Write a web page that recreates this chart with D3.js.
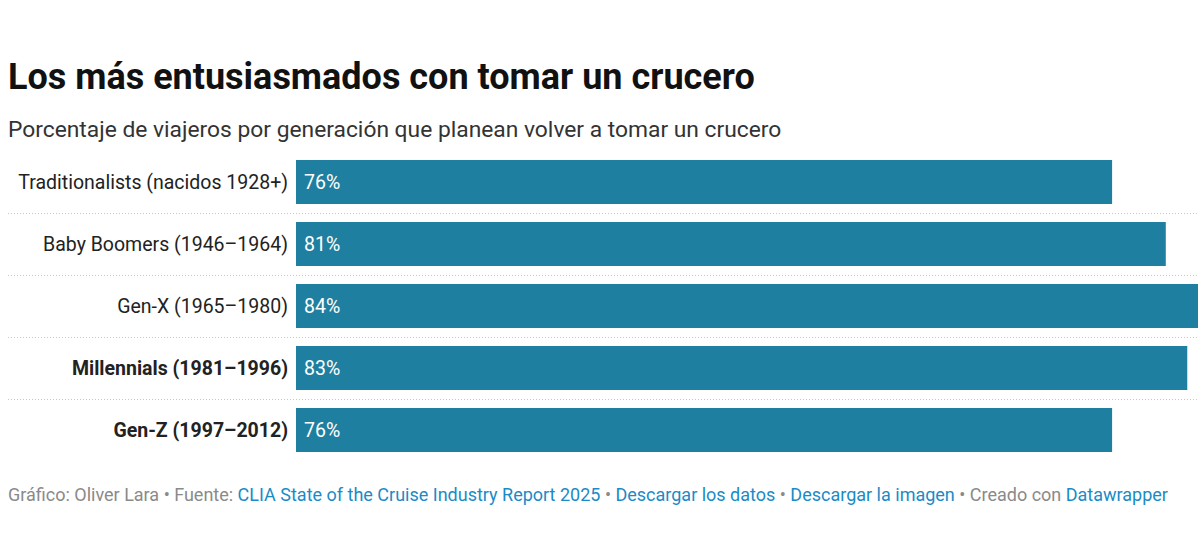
<!DOCTYPE html>
<html><head><meta charset="utf-8">
<script src="https://cdn.jsdelivr.net/npm/d3@7"></script>
<style>body{margin:0;background:#fff;} svg{display:block;font-family:Roboto,"Open Sans",sans-serif;}</style>
</head><body>
<svg id="c" width="1200" height="548"></svg>
<script>
const categories = ["Traditionalists (nacidos 1928+)","Baby Boomers (1946–1964)","Gen-X (1965–1980)","Millennials (1981–1996)","Gen-Z (1997–2012)"];
const values = [76, 81, 84, 83, 76];
const boldLabels = ["Millennials (1981–1996)","Gen-Z (1997–2012)"];
const title = "Los más entusiasmados con tomar un crucero";
const subtitle = "Porcentaje de viajeros por generación que planean volver a tomar un crucero";
const footerParts = [
  {t:"Gráfico: Oliver Lara • Fuente: ", link:false},
  {t:"CLIA State of the Cruise Industry Report 2025", link:true},
  {t:" • ", link:false},
  {t:"Descargar los datos", link:true},
  {t:" • ", link:false},
  {t:"Descargar la imagen", link:true},
  {t:" • Creado con ", link:false},
  {t:"Datawrapper", link:true}
];

const svg = d3.select("#c");
svg.append("text").attr("x",8).attr("y",89).attr("font-size",36).attr("font-weight",700).attr("fill","#111").text(title);
svg.append("text").attr("x",8).attr("y",137).attr("font-size",22.8).attr("fill","#333").text(subtitle);

const x = d3.scaleLinear().domain([0,84]).range([296,1198]);
const y = d3.scaleBand().domain(categories).range([160,452]).paddingInner(18/62).paddingOuter(0);

const step = y.step();
categories.slice(0,-1).forEach(c=>{
  const yy = Math.round(y(c)+y.bandwidth()+(step-y.bandwidth())/2)+0.5;
  svg.append("line").attr("x1",8).attr("x2",1198).attr("y1",yy).attr("y2",yy)
    .attr("stroke","#c8c8c8").attr("stroke-width",1).attr("stroke-dasharray","1,2");
});

svg.selectAll("rect.bar").data(categories).join("rect").attr("class","bar")
  .attr("x",x(0)).attr("y",d=>y(d)).attr("height",y.bandwidth())
  .attr("width",(d,i)=>x(values[i])-x(0)).attr("fill","#1f7fa0");

svg.selectAll("text.lab").data(categories).join("text").attr("class","lab")
  .attr("x",288).attr("y",d=>y(d)+y.bandwidth()/2).attr("dy","0.35em")
  .attr("text-anchor","end").attr("font-size",19.5)
  .attr("font-weight",d=>boldLabels.includes(d)?700:400)
  .attr("fill","#222").text(d=>d);

svg.selectAll("text.val").data(categories).join("text").attr("class","val")
  .attr("x",x(0)+8).attr("y",d=>y(d)+y.bandwidth()/2).attr("dy","0.35em")
  .attr("font-size",19.5).attr("fill","#fff").text((d,i)=>values[i]+"%");

const f = svg.append("text").attr("x",8).attr("y",501).attr("font-size",18);
footerParts.forEach(p=>f.append("tspan").attr("fill",p.link?"#1a8bc6":"#8a8a8a").text(p.t));
</script>
</body></html>
